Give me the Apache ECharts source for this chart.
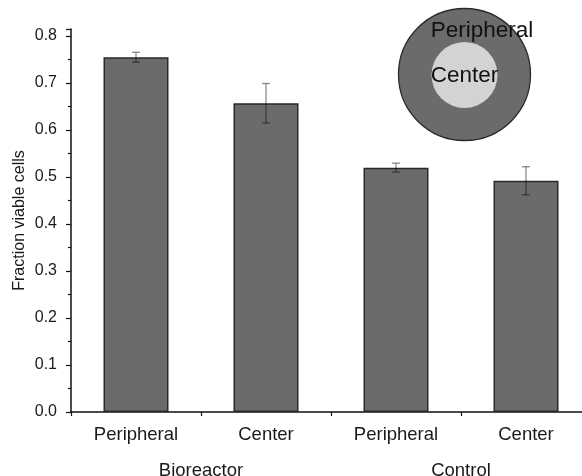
<!DOCTYPE html>
<html>
<head>
<meta charset="utf-8">
<script src="https://cdn.jsdelivr.net/npm/echarts@6/dist/echarts.min.js"></script>
<style>html,body{margin:0;padding:0;background:#fff}#c{width:582px;height:476px}</style>
</head>
<body>
<div id="c"></div>
<script>
const categories = ['Peripheral', 'Center', 'Peripheral', 'Center'];
const groups = ['Bioreactor', 'Control'];
const values = [0.755, 0.657, 0.520, 0.492];
const errors = [0.0105, 0.042, 0.0095, 0.030];
const yTicks = [0, 0.1, 0.2, 0.3, 0.4, 0.5, 0.6, 0.7, 0.8];

const FONT = '"Liberation Sans", Arial, sans-serif';
const chart = echarts.init(document.getElementById('c'), null, {renderer: 'canvas'});

const errData = values.map((v, i) => [i, v - errors[i], v + errors[i]]);

chart.setOption({
  animation: false,
  backgroundColor: '#fff',
  grid: {left: 71, width: 520, top: 29, height: 383, outerBoundsMode: 'none', containLabel: false},
  xAxis: [
    {
      type: 'category', data: categories,
      axisLine: {lineStyle: {color: '#111', width: 1.5}},
      axisTick: {alignWithLabel: true, length: 6, lineStyle: {color: '#111', width: 1.5}},
      axisLabel: {margin: 13, fontFamily: FONT, fontSize: 18.5, color: '#1a1a1a'}
    },
    {
      type: 'category', data: categories, position: 'bottom',
      axisLine: {show: false},
      axisTick: {show: true, interval: 0, length: 4, lineStyle: {color: '#111', width: 1.2}},
      axisLabel: {show: false}
    },
    {
      type: 'category', data: groups, position: 'bottom',
      axisLine: {show: false}, axisTick: {show: false},
      axisLabel: {margin: 49, fontFamily: FONT, fontSize: 18.5, color: '#1a1a1a'}
    }
  ],
  yAxis: {
    type: 'value', min: 0, max: 0.815, interval: 0.1,
    name: 'Fraction viable cells', nameLocation: 'middle', nameGap: 43, nameMoveOverlap: false,
    nameTextStyle: {fontFamily: FONT, fontSize: 16, color: '#1a1a1a'},
    axisLine: {show: true, lineStyle: {color: '#111', width: 1.5}},
    axisTick: {show: true, length: 5, lineStyle: {color: '#111', width: 1.2}},
    minorTick: {show: true, splitNumber: 2, length: 3, lineStyle: {color: '#111', width: 1.2}},
    splitLine: {show: false},
    axisLabel: {
      fontFamily: FONT, fontSize: 16, color: '#1a1a1a', margin: 14,
      formatter: v => yTicks.some(t => Math.abs(t - v) < 1e-9) ? v.toFixed(1) : ''
    }
  },
  series: [
    {
      type: 'bar', data: values, barWidth: '50%',
      itemStyle: {color: '#6b6b6b', borderColor: '#2a2a2a', borderWidth: 1.5}
    },
    {
      type: 'custom', data: errData, z: 5,
      renderItem: function (params, api) {
        const x = api.value(0);
        const lo = api.coord([x, api.value(1)]);
        const hi = api.coord([x, api.value(2)]);
        const cw = 4;
        const st = {stroke: 'rgba(0,0,0,0.45)', lineWidth: 1.3};
        return {type: 'group', children: [
          {type: 'line', shape: {x1: lo[0], y1: lo[1], x2: hi[0], y2: hi[1]}, style: st},
          {type: 'line', shape: {x1: lo[0] - cw, y1: lo[1], x2: lo[0] + cw, y2: lo[1]}, style: st},
          {type: 'line', shape: {x1: hi[0] - cw, y1: hi[1], x2: hi[0] + cw, y2: hi[1]}, style: st}
        ]};
      }
    }
  ],
  graphic: [
    {type: 'circle', shape: {cx: 464.5, cy: 74.5, r: 66}, style: {fill: '#6b6b6b', stroke: '#2a2a2a', lineWidth: 1.3}, z: 10},
    {type: 'circle', shape: {cx: 464.5, cy: 75, r: 33}, style: {fill: '#d3d3d3'}, z: 11},
    {type: 'text', x: 482, y: 31, z: 12, style: {text: 'Peripheral', fontFamily: FONT, fontSize: 22.5, fill: '#111', align: 'center', verticalAlign: 'middle'}},
    {type: 'text', x: 464.5, y: 76, z: 12, style: {text: 'Center', fontFamily: FONT, fontSize: 22.5, fill: '#111', align: 'center', verticalAlign: 'middle'}}
  ]
});
</script>
</body>
</html>
